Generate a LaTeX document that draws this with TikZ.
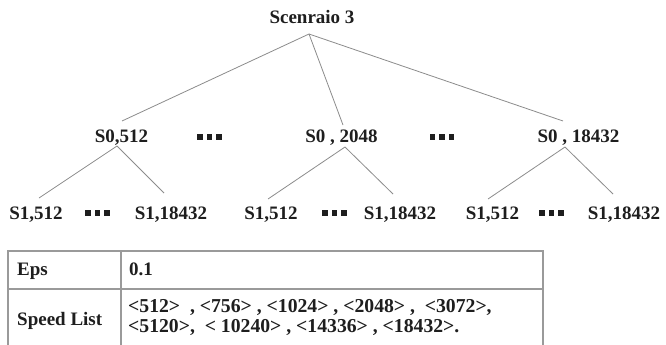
\documentclass[tikz,border=0pt]{standalone}
\usepackage{fontspec}
\setmainfont{Liberation Serif}
\definecolor{txt}{HTML}{1E1E1E}
\definecolor{linegray}{HTML}{8C8C8C}
\definecolor{gridgray}{HTML}{9A9A9A}
\begin{document}
\begin{tikzpicture}[x=1pt,y=-1pt,
  lbl/.style={font=\bfseries\fontsize{19}{22}\selectfont, text=txt, anchor=base, inner sep=0pt},
  tlbl/.style={font=\bfseries\fontsize{19}{21}\selectfont, text=txt, anchor=base west, inner sep=0pt},
  vlbl/.style={font=\bfseries\fontsize{19.7}{19.5}\selectfont, text=txt, anchor=base west, inner sep=0pt, align=left},
  dotsym/.style={inner sep=0pt, text=txt},
  edge/.style={draw=linegray, line width=0.8pt},
  gridline/.style={draw=gridgray, line width=1.3pt}]
\useasboundingbox[fill=white] (0,0) rectangle (666,345);
\newcommand{\tridots}{\rule{5.5pt}{6pt}\hspace{4pt}\rule{5.5pt}{6pt}\hspace{4pt}\rule{5.5pt}{6pt}}
% root
\node[lbl] (root) at (312,24) {Scenraio 3};
% level 1
\node[lbl] (a) at (121.5,142) {S0,512};
\node[lbl] (b) at (341.5,142) {S0 , 2048};
\node[lbl] (c) at (578.5,142) {S0 , 18432};
\node[dotsym] (d1) at (209.5,136.5) {\tridots};
\node[dotsym] (d2) at (442,136.5) {\tridots};
% level 2
\node[lbl] (a1) at (36,219) {S1,512};
\node[lbl] (a2) at (171,219) {S1,18432};
\node[lbl] (b1) at (271,219) {S1,512};
\node[lbl] (b2) at (400,219) {S1,18432};
\node[lbl] (c1) at (492.5,219) {S1,512};
\node[lbl] (c2) at (624,219) {S1,18432};
\node[dotsym] (e1) at (97.5,212.5) {\tridots};
\node[dotsym] (e2) at (334.5,212.5) {\tridots};
\node[dotsym] (e3) at (551.5,212.5) {\tridots};
% connector end points
\coordinate (rootb) at (309,34);
\coordinate (at) at (122,121);
\coordinate (bt) at (343,125);
\coordinate (ct) at (563,121);
\coordinate (ab) at (117,146);
\coordinate (bb) at (345,147);
\coordinate (cb) at (565,147);
\coordinate (a1t) at (39,198);
\coordinate (a2t) at (164,193);
\coordinate (b1t) at (268,199);
\coordinate (b2t) at (393,194);
\coordinate (c1t) at (488,199);
\coordinate (c2t) at (613,194);
\draw[edge] (rootb) -- (at);
\draw[edge] (rootb) -- (bt);
\draw[edge] (rootb) -- (ct);
\draw[edge] (ab) -- (a1t);
\draw[edge] (ab) -- (a2t);
\draw[edge] (bb) -- (b1t);
\draw[edge] (bb) -- (b2t);
\draw[edge] (cb) -- (c1t);
\draw[edge] (cb) -- (c2t);
% table
\coordinate (tl) at (8,251);
\coordinate (tr) at (543,251);
\coordinate (ml) at (8,289);
\coordinate (mr) at (543,289);
\coordinate (dt) at (121,251);
\coordinate (bl) at (8,346);
\coordinate (br) at (543,346);
\coordinate (db) at (121,346);
\draw[gridline] (bl) -- (tl) -- (tr) -- (br);
\draw[gridline] (ml) -- (mr);
\draw[gridline] (dt) -- (db);
\node[tlbl] (eps) at (17,275) {Eps};
\node[tlbl] (epsv) at (129,275) {0.1};
\node[tlbl] (sp) at (17,325) {Speed List};
\node[vlbl] (sl) at (128,332) {<512>\ \ , <756> , <1024> , <2048> ,\ \ <3072>,\\<5120>,\ \ < 10240> , <14336> , <18432>.};
\end{tikzpicture}
\end{document}
